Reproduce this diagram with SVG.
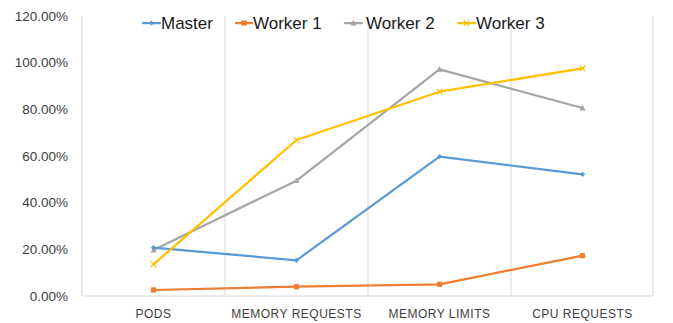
<svg xmlns="http://www.w3.org/2000/svg" width="673" height="323" viewBox="0 0 673 323">
  <style>
    .grid { stroke: #D9D9D9; stroke-width: 1; fill: none; }
    .ylab { font-family: "Liberation Sans", Arial, sans-serif; font-size: 13.5px; fill: #404040; text-anchor: end; }
    .xlab { font-family: "Liberation Sans", Arial, sans-serif; font-size: 12px; fill: #404040; text-anchor: middle; letter-spacing: 0.5px; }
    .leg { font-family: "Liberation Sans", Arial, sans-serif; font-size: 17px; fill: #1a1a1a; }
    .s { fill: none; stroke-width: 2.25; stroke-linejoin: round; stroke-linecap: round; }
    .master { stroke: #5B9BD5; }
    .w1 { stroke: #ED7D31; }
    .w2 { stroke: #A5A5A5; }
    .w3 { stroke: #FFC000; }
  </style>
  <defs>
    <marker id="mDiamond" viewBox="-4 -4 8 8" markerWidth="8" markerHeight="8" markerUnits="userSpaceOnUse" refX="0" refY="0">
      <path d="M0,-2.6 L2.6,0 L0,2.6 L-2.6,0 Z" fill="#5B9BD5"/>
    </marker>
    <marker id="mSquare" viewBox="-4 -4 8 8" markerWidth="8" markerHeight="8" markerUnits="userSpaceOnUse" refX="0" refY="0">
      <rect x="-2.6" y="-2.6" width="5.2" height="5.2" fill="#ED7D31"/>
    </marker>
    <marker id="mTri" viewBox="-4 -4 8 8" markerWidth="8" markerHeight="8" markerUnits="userSpaceOnUse" refX="0" refY="0">
      <path d="M0,-3.2 L3,2.4 L-3,2.4 Z" fill="#A5A5A5"/>
    </marker>
    <marker id="mX" viewBox="-4 -4 8 8" markerWidth="8" markerHeight="8" markerUnits="userSpaceOnUse" refX="0" refY="0">
      <path d="M-2.8,-2.8 L2.8,2.8 M-2.8,2.8 L2.8,-2.8" stroke="#FFC000" stroke-width="1.2" fill="none"/>
    </marker>
  </defs>

  <!-- plot frame and category gridlines -->
  <g id="grid">
    <line class="grid" x1="82" y1="16" x2="82" y2="296"/>
    <line class="grid" x1="225" y1="16" x2="225" y2="296"/>
    <line class="grid" x1="368" y1="16" x2="368" y2="296"/>
    <line class="grid" x1="511" y1="16" x2="511" y2="296"/>
    <line class="grid" x1="653" y1="16" x2="653" y2="296"/>
    <line class="grid" x1="82" y1="296" x2="653" y2="296"/>
  </g>

  <!-- value axis -->
  <g id="y-axis">
    <text class="ylab" x="68" y="300.5">0.00%</text>
    <text class="ylab" x="68" y="253.8">20.00%</text>
    <text class="ylab" x="68" y="207.2">40.00%</text>
    <text class="ylab" x="68" y="160.5">60.00%</text>
    <text class="ylab" x="68" y="113.8">80.00%</text>
    <text class="ylab" x="68" y="67.2">100.00%</text>
    <text class="ylab" x="68" y="20.5">120.00%</text>
  </g>

  <!-- category axis -->
  <g id="x-axis">
    <text class="xlab" x="153.5" y="318">PODS</text>
    <text class="xlab" x="296.5" y="318">MEMORY REQUESTS</text>
    <text class="xlab" x="439.5" y="318">MEMORY LIMITS</text>
    <text class="xlab" x="582.5" y="318">CPU REQUESTS</text>
  </g>

  <!-- data series -->
  <g id="series">
    <polyline class="s w2" points="153.5,250 296.5,180.7 439.5,69.3 582.5,108" marker-start="url(#mTri)" marker-mid="url(#mTri)" marker-end="url(#mTri)"/>
    <polyline class="s w1" points="153.5,290 296.5,286.7 439.5,284.3 582.5,255.7" marker-start="url(#mSquare)" marker-mid="url(#mSquare)" marker-end="url(#mSquare)"/>
    <polyline class="s master" points="153.5,247.7 296.5,260.3 439.5,156.7 582.5,174.3" marker-start="url(#mDiamond)" marker-mid="url(#mDiamond)" marker-end="url(#mDiamond)"/>
    <polyline class="s w3" points="153.5,264.3 296.5,140 439.5,91.7 582.5,68.3" marker-start="url(#mX)" marker-mid="url(#mX)" marker-end="url(#mX)"/>
  </g>

  <!-- legend -->
  <g id="legend">
    <g id="legend-master">
      <line class="s master" x1="143" y1="23" x2="160" y2="23"/>
      <path d="M151.5,20.4 L154.1,23 L151.5,25.6 L148.9,23 Z" fill="#5B9BD5"/>
      <text class="leg" x="161" y="29">Master</text>
    </g>
    <g id="legend-worker1">
      <line class="s w1" x1="236" y1="23" x2="252" y2="23"/>
      <rect x="241.4" y="20.4" width="5.2" height="5.2" fill="#ED7D31"/>
      <text class="leg" x="253" y="29">Worker 1</text>
    </g>
    <g id="legend-worker2">
      <line class="s w2" x1="345" y1="23" x2="362" y2="23"/>
      <path d="M353.5,19.8 L356.5,25.4 L350.5,25.4 Z" fill="#A5A5A5"/>
      <text class="leg" x="366" y="29">Worker 2</text>
    </g>
    <g id="legend-worker3">
      <line class="s w3" x1="458" y1="23" x2="475" y2="23"/>
      <path d="M463.7,20.2 L469.3,25.8 M463.7,25.8 L469.3,20.2" stroke="#FFC000" stroke-width="1.2"/>
      <text class="leg" x="476" y="29">Worker 3</text>
    </g>
  </g>
</svg>
